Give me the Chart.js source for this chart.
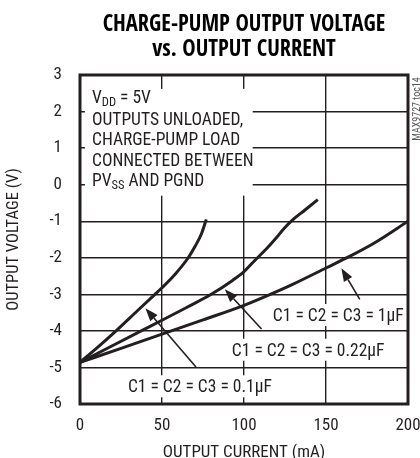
<!DOCTYPE html>
<html><head><meta charset="utf-8">
<script src="https://cdn.jsdelivr.net/npm/chart.js@4/dist/chart.umd.min.js"></script>
<style>html,body{margin:0;padding:0;background:#fff;}canvas{display:block}</style>
</head><body>
<canvas id="c" width="420" height="458"></canvas>
<script>
// ---- data ----
const titleLines = ['CHARGE-PUMP OUTPUT VOLTAGE', 'vs. OUTPUT CURRENT'];
const xTitle = 'OUTPUT CURRENT (mA)';
const yTitle = 'OUTPUT VOLTAGE (V)';
const xTicks = [0, 50, 100, 150, 200];
const yTicks = [-6, -5, -4, -3, -2, -1, 0, 1, 2, 3];
const seriesNames = ['C1 = C2 = C3 = 0.1µF', 'C1 = C2 = C3 = 0.22µF', 'C1 = C2 = C3 = 1µF'];
const cur01 = [0, 10, 22, 35, 45.7, 50, 58, 66, 70, 74, 77];
const v01   = [-4.86, -4.48, -4.0, -3.45, -3.0, -2.82, -2.45, -2.0, -1.7, -1.35, -0.95];
const cur022 = [0, 20, 40, 50, 65, 80, 93, 100, 106, 114, 120, 124, 129, 137, 145];
const v022   = [-4.86, -4.4, -3.94, -3.71, -3.36, -3.0, -2.62, -2.38, -2.1, -1.74, -1.44, -1.22, -0.99, -0.7, -0.41];
const cur1 = [0, 25, 50, 75, 100, 115, 130, 150, 164, 180, 200];
const v1   = [-4.86, -4.48, -4.09, -3.70, -3.30, -3.02, -2.72, -2.28, -1.97, -1.58, -1.0];
const noteLines = [
  [['V', 0], ['DD', 1], [' = 5V', 0]],
  [['OUTPUTS UNLOADED,', 0]],
  [['CHARGE-PUMP LOAD', 0]],
  [['CONNECTED BETWEEN', 0]],
  [['PV', 0], ['SS', 1], [' AND PGND', 0]]
];
const sideNote = 'MAX9727 toc14';

// ---- layout of annotations (data units) ----
const noteX = 7.3, noteBaselines = [2.23, 1.64, 1.09, 0.52, -0.05];
const noteBox = {x0: 3, x1: 105.3, y0: 2.62, y1: -0.3};
const labelPos = [ {x: 29.2, y: -5.68}, {x: 92.6, y: -4.68}, {x: 117.6, y: -3.73} ];
const arrows = [
  {tail: [70.7, -4.99], tip: [39.9, -3.38]},
  {tail: [110.7, -3.95], tip: [88.3, -2.86]},
  {tail: [170.6, -3.14], tip: [159.4, -2.29]}
];

const INK = '#231f20';
const FF = '"Roboto Condensed", "DejaVu Sans Condensed", sans-serif';
const FT = '"Open Sans Condensed", "Roboto Condensed", sans-serif';
const FS = 17.5;

function mk(xs, ys) { return xs.map((v, i) => ({x: v, y: ys[i]})); }

const annot = {
  id: 'annot',
  beforeDatasetsDraw(chart) {
    const {ctx, scales: {x, y}} = chart;
    ctx.save();
    ctx.fillStyle = '#fff';
    const bx0 = x.getPixelForValue(noteBox.x0), bx1 = x.getPixelForValue(noteBox.x1);
    const by0 = y.getPixelForValue(noteBox.y0), by1 = y.getPixelForValue(noteBox.y1);
    ctx.fillRect(bx0, by0, bx1 - bx0, by1 - by0);
    ctx.font = FS + 'px ' + FF;
    seriesNames.forEach((t, i) => {
      const px = x.getPixelForValue(labelPos[i].x), py = y.getPixelForValue(labelPos[i].y);
      const w = ctx.measureText(t).width;
      ctx.fillStyle = '#fff';
      ctx.fillRect(px - 4, py - 17, w + 8, 22);
    });
    ctx.fillStyle = INK;
    ctx.textBaseline = 'alphabetic';
    ctx.textAlign = 'left';
    seriesNames.forEach((t, i) => {
      ctx.fillText(t, x.getPixelForValue(labelPos[i].x), y.getPixelForValue(labelPos[i].y));
    });
    noteLines.forEach((parts, li) => {
      let px = x.getPixelForValue(noteX);
      const py = y.getPixelForValue(noteBaselines[li]);
      parts.forEach(([t, sub]) => {
        ctx.font = (sub ? '12.5px ' : FS + 'px ') + FF;
        ctx.fillText(t, px, py + (sub ? 2.6 : 0));
        px += ctx.measureText(t).width;
      });
    });
    ctx.restore();
  },
  afterDatasetsDraw(chart) {
    const {ctx, chartArea: a, scales: {x, y}} = chart;
    ctx.save();
    ctx.strokeStyle = INK; ctx.fillStyle = INK;
    arrows.forEach(ar => {
      const tx = x.getPixelForValue(ar.tail[0]), ty = y.getPixelForValue(ar.tail[1]);
      const hx = x.getPixelForValue(ar.tip[0]), hy = y.getPixelForValue(ar.tip[1]);
      const ang = Math.atan2(hy - ty, hx - tx);
      const L = 13, W = 4.8;
      const bx = hx - L * Math.cos(ang), by = hy - L * Math.sin(ang);
      ctx.lineWidth = 1.6;
      ctx.beginPath(); ctx.moveTo(tx, ty); ctx.lineTo(bx, by); ctx.stroke();
      ctx.beginPath();
      ctx.moveTo(hx, hy);
      ctx.lineTo(bx + W * Math.sin(ang), by - W * Math.cos(ang));
      ctx.lineTo(bx - W * Math.sin(ang), by + W * Math.cos(ang));
      ctx.closePath(); ctx.fill();
    });
    ctx.lineWidth = 3;
    ctx.strokeRect(a.left, a.top, a.right - a.left, a.bottom - a.top);
    ctx.font = '10px ' + FF;
    ctx.fillStyle = '#555';
    ctx.translate(a.right + 9, a.top + 34);
    ctx.rotate(-Math.PI / 2);
    ctx.textAlign = 'center'; ctx.textBaseline = 'middle';
    ctx.fillText(sideNote, 0, 0);
    ctx.restore();
  }
};

const lineStyle = {borderColor: INK, borderWidth: 3, pointRadius: 0, cubicInterpolationMode: 'monotone', fill: false};

new Chart(document.getElementById('c'), {
  type: 'line',
  data: {
    datasets: [
      Object.assign({label: seriesNames[0], data: mk(cur01, v01)}, lineStyle),
      Object.assign({label: seriesNames[1], data: mk(cur022, v022)}, lineStyle),
      Object.assign({label: seriesNames[2], data: mk(cur1, v1)}, lineStyle)
    ]
  },
  options: {
    responsive: false,
    animation: false,
    layout: {padding: {left: 0, right: 12, top: 0, bottom: 0}},
    plugins: {
      legend: {display: false},
      tooltip: {enabled: false},
      title: {
        display: true, text: titleLines, color: '#000', fullSize: false,
        font: {family: FT, size: 22.5, weight: '800', lineHeight: 1.133},
        padding: {top: 12, bottom: 12}
      }
    },
    scales: {
      x: {
        type: 'linear', min: 0, max: 200,
        afterBuildTicks: s => { s.ticks = xTicks.map(v => ({value: v})); },
        afterFit: s => { s.height = 54; s.paddingLeft = 0; s.paddingRight = 0; },
        grid: {color: INK, lineWidth: 1.4, drawTicks: false},
        border: {display: false},
        ticks: {color: INK, font: {family: FF, size: 17}, padding: 12, maxRotation: 0},
        title: {display: true, text: xTitle, color: INK, font: {family: FF, size: 17, lineHeight: 0.65}, padding: 0}
      },
      y: {
        type: 'linear', min: -6, max: 3,
        afterBuildTicks: s => { s.ticks = yTicks.map(v => ({value: v})); },
        afterFit: s => { s.width = 80; s.paddingTop = 0; s.paddingBottom = 0; },
        grid: {color: INK, lineWidth: 1.4, drawTicks: false},
        border: {display: false},
        ticks: {color: INK, font: {family: FF, size: 17}, padding: 18},
        title: {display: true, text: yTitle, color: INK, font: {family: FF, size: 16.5, lineHeight: 1}, padding: {top: 5.5, bottom: 0}}
      }
    }
  },
  plugins: [annot]
});
</script>
</body></html>
